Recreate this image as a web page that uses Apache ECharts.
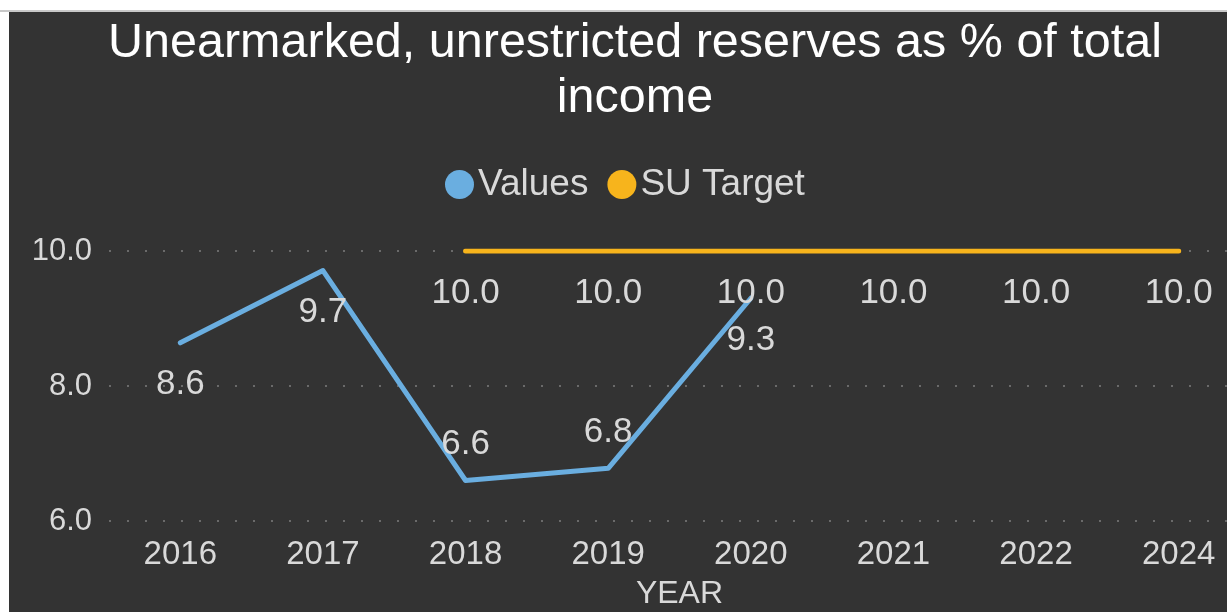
<!DOCTYPE html>
<html>
<head>
<meta charset="utf-8">
<script src="https://cdn.jsdelivr.net/npm/echarts@6/dist/echarts.min.js"></script>
<style>
html,body{margin:0;padding:0;background:#ffffff;width:1227px;height:612px;overflow:hidden;}
#wrap{position:absolute;left:0;top:0;width:1227px;height:612px;background:#ffffff;}
#bar{position:absolute;left:0;top:10px;width:1227px;height:2px;background:#c8c8c8;}
#chart{position:absolute;left:9px;top:12px;width:1218px;height:600px;background:#333333;}
</style>
</head>
<body>
<div id="wrap"><div id="bar"></div><div id="chart"></div></div>
<script>
const categories = ['2016','2017','2018','2019','2020','2021','2022','2024'];
const valuesSeries = [8.64, 9.71, 6.60, 6.78, 9.30, null, null, null];
const targetSeries = [null, null, 10.0, 10.0, 10.0, 10.0, 10.0, 10.0];
const valueLabelPos = ['bottom','bottom','top','top','bottom'];
const yTicks = [6, 8, 10];

const chart = echarts.init(document.getElementById('chart'), null, {renderer:'canvas'});
const FONT = '"Liberation Sans", Arial, sans-serif';
const TXT = '#d9d9d9';

const valuesData = valuesSeries.map((v,i) => {
  if (v === null) return null;
  const pos = valueLabelPos[i];
  return {value: v, label: {position: pos, distance: pos === 'top' ? 18 : 24}};
});

chart.setOption({
  backgroundColor: '#333333',
  animation: false,
  title: {
    text: 'Unearmarked, unrestricted reserves as % of total\nincome',
    left: 621, top: -1, textAlign: 'center',
    textStyle: {color: '#ffffff', fontFamily: FONT, fontSize: 48.5, fontWeight: 'normal', lineHeight: 55}
  },
  legend: {
    top: 149, left: 431,
    icon: 'circle', itemWidth: 29, itemHeight: 29, itemGap: 19,
    textStyle: {color: TXT, fontFamily: FONT, fontSize: 37, padding: [0,0,0,-1]},
    data: ['Values','SU Target']
  },
  grid: {left: 100, right: -23, top: 239, bottom: 91, containLabel: false, outerBoundsMode: 'none'},
  xAxis: {
    type: 'category', data: categories, boundaryGap: true,
    name: 'YEAR', nameLocation: 'middle', nameGap: 57,
    nameTextStyle: {color: TXT, fontFamily: FONT, fontSize: 32},
    axisLine: {show: false}, axisTick: {show: false},
    axisLabel: {color: TXT, fontFamily: FONT, fontSize: 33, margin: 17}
  },
  yAxis: {
    type: 'value', min: yTicks[0], max: yTicks[yTicks.length-1], interval: yTicks[1]-yTicks[0],
    axisLine: {show: false}, axisTick: {show: false},
    axisLabel: {color: TXT, fontFamily: FONT, fontSize: 31, margin: 17, formatter: v => v.toFixed(1)},
    splitLine: {show: true, lineStyle: {color: '#6a6a6a', width: 2, type: [2, 16]}}
  },
  series: [
    {
      name: 'Values', type: 'line', data: valuesData, connectNulls: false,
      symbol: 'circle', symbolSize: 1, showSymbol: true, color: '#6aaee0',
      itemStyle: {color: '#6aaee0'},
      lineStyle: {width: 5, color: '#6aaee0', cap: 'round', join: 'round'},
      label: {show: true, color: TXT, fontFamily: FONT, fontSize: 35, formatter: p => p.value.toFixed(1)}
    },
    {
      name: 'SU Target', type: 'line', data: targetSeries,
      symbol: 'circle', symbolSize: 1, showSymbol: true, color: '#f7b41c',
      itemStyle: {color: '#f7b41c'},
      lineStyle: {width: 5, color: '#f7b41c', cap: 'round'},
      label: {show: true, position: 'bottom', distance: 24, color: TXT, fontFamily: FONT, fontSize: 35, formatter: p => p.value.toFixed(1)}
    }
  ]
});
</script>
</body>
</html>
